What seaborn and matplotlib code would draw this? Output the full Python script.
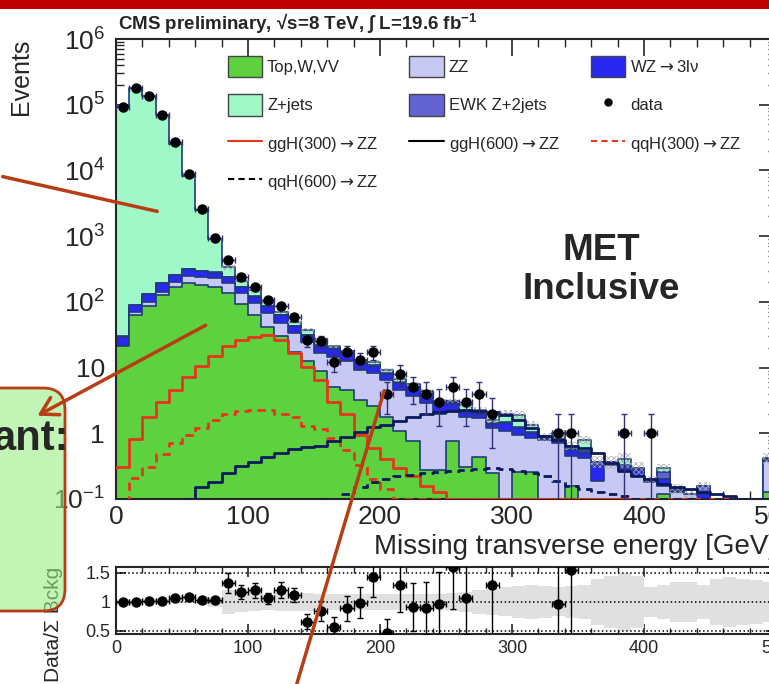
import numpy as np
import pandas as pd
import matplotlib
matplotlib.use("Agg")
import matplotlib.pyplot as plt
import seaborn as sns
from matplotlib.patches import Patch, FancyBboxPatch, FancyArrowPatch, Rectangle
from matplotlib.lines import Line2D
from matplotlib.font_manager import FontProperties
from matplotlib.ticker import MultipleLocator, FixedLocator, FixedFormatter, LogLocator, NullFormatter

# %% data (10 GeV bins, 0-500 GeV)
edges = np.arange(0, 510, 10)
centers = edges[:-1] + 5

data = [9.3e4, 1.8e5, 1.35e5, 7.0e4, 2.7e4, 8.9e3, 2.6e3, 930, 434, 242,
        169, 107, 85, 58, 26, 25, 12, 17, 13, 17,
        4, 8, 5, 4, 3, 5, 3, 4, 2, 0,
        0, 0, 0, 1, 1, 0, 0, 0, 1, 0,
        1, 0, 0, 0, 0, 0, 0, 0, 0, 0]
data_err = [305, 424, 367, 265, 164, 94, 51, 30, 21, 16,
            13, 10, 9, 7.6, 5.1, 5, 3.5, 4.1, 3.6, 4.1,
            2, 2.8, 2.2, 2, 1.7, 2.2, 1.7, 2, 1.4, 0,
            0, 0, 0, 1, 1, 0, 0, 0, 1, 0,
            1, 0, 0, 0, 0, 0, 0, 0, 0, 0]

top_wvv = [21, 63, 87, 127, 167, 196, 180, 167, 135, 93,
           63, 42, 30, 17.5, 12.5, 9, 5.1, 4.5, 3.2, 2.6,
           1.8, 1.1, 0.75, 0.28, 0.28, 0.75, 0.31, 0.44, 0.25, 0,
           0.26, 0.26, 0, 0, 0.16, 0, 0, 0, 0, 0,
           0, 0.12, 0, 0, 0, 0, 0, 0, 0, 0.13]
zz = [0.5, 8, 14, 16, 36, 51, 57, 61, 56, 42,
      34, 25, 18, 16.5, 12.1, 7.6, 9.6, 8.1, 6.0, 5.6,
      4.7, 3.4, 2.95, 2.62, 1.72, 1.55, 1.47, 1.24, 0.95, 1.1,
      0.69, 0.59, 0.8, 0.7, 0.29, 0.42, 0.19, 0.33, 0.28, 0.22,
      0.18, 0.04, 0.13, 0.12, 0.1, 0, 0, 0, 0, 0.25]
wz = [8.1, 18, 31, 48, 54, 69, 61, 51, 46, 32,
      23, 20, 15, 9, 6.4, 4.9, 4.8, 3.7, 2.6, 2.5,
      1.5, 1.4, 1.2, 1.0, 0.9, 0.6, 0.32, 0.32, 0.2, 0.35,
      0.25, 0.15, 0.05, 0.1, 0.1, 0.08, 0.14, 0.02, 0.04, 0.06,
      0.01, 0.04, 0.005, 0, 0.02, 0, 0, 0, 0, 0.02]
ewk = [0.2, 0.5, 0.8, 1.2, 1.6, 2.0, 2.0, 1.9, 1.7, 1.4,
       1.1, 0.9, 0.7, 0.5, 0.4, 0.35, 0.3, 0.25, 0.2, 0.18,
       0.15, 0.12, 0.1, 0.09, 0.08, 0.07, 0.06, 0.05, 0.05, 0.04,
       0.04, 0.03, 0.03, 0.03, 0.03, 0.03, 0.04, 0.02, 0.01, 0.02,
       0.01, 0.06, 0.01, 0, 0.04, 0, 0, 0, 0, 0.01]
zjets = [9.3e4, 1.8e5, 1.34e5, 6.88e4, 2.52e4, 7.9e3, 2.2e3, 620, 101, 42,
         29, 13.1, 7.3, 6.5, 5.6, 5.15, 1.2, 1.45, 1.0, 1.12,
         1.15, 0.58, 0.6, 0.41, 0.12, 0.13, 0.54, 0.25, 0.15, 0.51,
         0.66, 0.32, 0.02, 0.17, 0.07, 0.27, 0, 0, 0.07, 0,
         0, 0.04, 0, 0, 0, 0, 0, 0, 0, 0.01]

ggh300 = [0.31, 0.83, 1.8, 3.0, 4.6, 7.3, 10.7, 15, 21, 26,
          29.6, 31, 26, 16.6, 10.3, 6.5, 3.0, 2.0, 0.95, 0.6,
          0.4, 0.3, 0.22, 0.16, 0.13, 0.1, 0.1, 0.1, 0.1, 0.1,
          0.1, 0.1, 0.1, 0.1, 0.1, 0.1, 0.1, 0.1, 0.1, 0.1,
          0.1, 0.1, 0.1, 0.1, 0.1, 0.1, 0.1, 0.1, 0.1, 0.1]
qqh300 = [0.05, 0.21, 0.31, 0.48, 0.70, 0.94, 1.19, 1.6, 2.0, 2.2,
          2.26, 2.26, 2.0, 1.8, 1.3, 1.15, 0.85, 0.55, 0.33, 0.2,
          0.14, 0.1, 0.1, 0.1, 0.1, 0.1, 0.1, 0.1, 0.1, 0.1,
          0.1, 0.1, 0.1, 0.1, 0.1, 0.1, 0.1, 0.1, 0.1, 0.1,
          0.1, 0.1, 0.1, 0.1, 0.1, 0.1, 0.1, 0.1, 0.1, 0.1]
ggh600 = [0.05, 0.05, 0.05, 0.05, 0.05, 0.1, 0.15, 0.18, 0.25, 0.32,
          0.37, 0.44, 0.5, 0.57, 0.62, 0.65, 0.75, 0.89, 1.05, 1.25,
          1.35, 1.55, 1.8, 2.0, 2.1, 2.2, 2.25, 2.2, 2.1, 1.9,
          1.6, 1.2, 0.9, 0.8, 0.65, 0.6, 0.5, 0.35, 0.27, 0.22,
          0.2, 0.17, 0.15, 0.14, 0.13, 0.12, 0.11, 0.1, 0.1, 0.1]
qqh600 = [0.05, 0.05, 0.05, 0.05, 0.05, 0.05, 0.05, 0.05, 0.05, 0.05,
          0.05, 0.05, 0.05, 0.05, 0.05, 0.1, 0.1, 0.12, 0.15, 0.18,
          0.2, 0.22, 0.23, 0.25, 0.26, 0.27, 0.28, 0.29, 0.3, 0.29,
          0.27, 0.25, 0.22, 0.19, 0.16, 0.14, 0.13, 0.12, 0.11, 0.1,
          0.1, 0.1, 0.1, 0.1, 0.1, 0.1, 0.1, 0.1, 0.1, 0.1]

# ratio panel: data / sum of backgrounds, nan = no point drawn
ratio = [1.0, 1.0, 1.01, 1.02, 1.06, 1.09, 1.03, 1.03, 1.33, 1.17,
         1.2, 1.06, 1.2, 1.12, 0.66, 0.84, 0.57, 0.89, 0.99, 1.43,
         0.47, 1.29, 0.91, 0.9, 0.96, 1.6, 1.06, np.nan, 1.3, np.nan,
         np.nan, np.nan, np.nan, 0.97, 1.55] + [np.nan] * 15
ratio_err = [0.005, 0.005, 0.006, 0.008, 0.01, 0.015, 0.02, 0.035, 0.17, 0.12,
             0.13, 0.09, 0.14, 0.12, 0.13, 0.17, 0.17, 0.21, 0.27, 0.35,
             0.24, 0.46, 0.41, 0.45, 0.55, 0.72, 0.61, np.nan, 0.92, np.nan,
             np.nan, np.nan, np.nan, 0.97, 1.55] + [np.nan] * 15
mc_band = [0.005, 0.005, 0.006, 0.008, 0.012, 0.018, 0.03, 0.08, 0.2, 0.18,
           0.16, 0.14, 0.15, 0.16, 0.15, 0.14, 0.13, 0.13, 0.14, 0.14,
           0.14, 0.14, 0.13, 0.13, 0.14, 0.16, 0.18, 0.2, 0.22, 0.25,
           0.27, 0.3, 0.28, 0.25, 0.27, 0.3, 0.4, 0.45, 0.5, 0.45,
           0.26, 0.3, 0.35, 0.35, 0.3, 0.4, 0.43, 0.4, 0.38, 0.35]

ytick_vals = [0.1, 1, 10, 1e2, 1e3, 1e4, 1e5, 1e6]
ytick_text = ["$10^{-1}$", "1", "10", "$10^{2}$", "$10^{3}$", "$10^{4}$", "$10^{5}$", "$10^{6}$"]

# %% style
sns.set_theme(style="ticks")
plt.rcParams["font.family"] = ["Liberation Sans", "DejaVu Sans"]
plt.rcParams["mathtext.fontset"] = "custom"
plt.rcParams["mathtext.rm"] = "Liberation Sans"
plt.rcParams["mathtext.bf"] = "Liberation Sans:bold"
plt.rcParams["mathtext.it"] = "Liberation Sans:italic"
plt.rcParams["hatch.linewidth"] = 0.5

c_green, c_zz, c_wz, c_ewk, c_zj = "#5ed23e", "#c8c8f5", "#2828f0", "#6262d2", "#a0f8c8"
c_edge = "#1f3b7a"
c_red, c_navy = "#e8341c", "#0b1a5c"
c_arrow = "#b83c14"

fig = plt.figure(figsize=(7.69, 6.84), dpi=100)
W, H = 769, 684
AX_W = 660
ax = fig.add_axes([116 / W, 1 - 499 / H, AX_W / W, 460 / H])
rax = fig.add_axes([116 / W, 1 - 634 / H, AX_W / W, 67 / H])
ax.set_yscale("log")

hist_kws = dict(x="met", weights="events", binwidth=10, binrange=(0, 500),
                element="step", ax=ax)

# stacked backgrounds, drawn as cumulative layers from the top down (THStack style)
layers = [("Top,W,VV", top_wvv, c_green), ("ZZ", zz, c_zz), ("WZ", wz, c_wz),
          ("EWK", ewk, c_ewk), ("Z+jets", zjets, c_zj)]
cum = np.cumsum(np.array([l[1] for l in layers], dtype=float), axis=0)
for k in range(len(layers) - 1, -1, -1):
    df = pd.DataFrame({"met": centers, "events": cum[k]})
    sns.histplot(data=df, fill=True, color=layers[k][2], alpha=1, edgecolor=c_edge,
                 linewidth=1.2, **hist_kws)
total = cum[-1]
band = np.array(mc_band)
ax.fill_between(edges, np.append(total * (1 - band / 2), total[-1] * (1 - band[-1] / 2)),
                np.append(total * (1 + band / 2), total[-1] * (1 + band[-1] / 2)),
                step="post", facecolor="none", edgecolor="#a8a8a8", hatch="xxxxxx",
                linewidth=0, zorder=3)

# signal curves
for vals, col, ls in [(ggh300, c_red, "-"), (qqh300, c_red, (0, (3, 2))),
                      (ggh600, c_navy, "-"), (qqh600, c_navy, (0, (3, 2)))]:
    df = pd.DataFrame({"met": centers, "events": vals})
    sns.histplot(data=df, fill=False, color=col, linestyle=ls, linewidth=2,
                 zorder=4, **hist_kws)

# data points
d = np.array(data, dtype=float)
de = np.array(data_err, dtype=float)
m = d > 0
half = np.diff(edges) / 2
ax.errorbar(centers[m], d[m], yerr=de[m], xerr=half[m], fmt="o", ms=6.5,
            color="black", ecolor="#30307a", elinewidth=1, capsize=2.5, zorder=6)

ax.set_xlim(0, 500)
ax.set_ylim(0.1, 1e6)
ax.yaxis.set_major_locator(FixedLocator(ytick_vals))
ax.yaxis.set_major_formatter(FixedFormatter(ytick_text))
ax.yaxis.set_minor_locator(LogLocator(base=10, subs=np.arange(2, 10)))
ax.yaxis.set_minor_formatter(NullFormatter())
ax.xaxis.set_major_locator(MultipleLocator(100))
ax.xaxis.set_minor_locator(MultipleLocator(20))
ax.tick_params(which="both", direction="in", top=True, right=True)
ax.tick_params(which="major", length=12, width=1.2, labelsize=19)
ax.tick_params(axis="y", which="major", pad=8)
ax.tick_params(axis="x", which="major", pad=4)
ax.tick_params(which="minor", length=6, width=1)
for s in ax.spines.values():
    s.set_linewidth(1.5)
ax.set_xlabel("Missing transverse energy [GeV]", loc="right", fontsize=20, labelpad=4)
ax.set_ylabel("Events", loc="top", fontsize=18)
ax.yaxis.set_label_coords((33 - 116) / AX_W, 1.0)

leg_handles = [Patch(facecolor=c_green, edgecolor="#444444"),
               Patch(facecolor=c_zj, edgecolor="#444444"),
               Line2D([], [], color=c_red, lw=1.5),
               Line2D([], [], color="black", lw=1.5, ls=(0, (3, 2))),
               Patch(facecolor=c_zz, edgecolor="#444444"),
               Patch(facecolor=c_ewk, edgecolor="#444444"),
               Line2D([], [], color="black", lw=1.5),
               Patch(facecolor=c_wz, edgecolor="#444444"),
               Line2D([], [], color="black", marker="o", ms=5, ls="none"),
               Line2D([], [], color=c_red, lw=1.5, ls=(0, (3, 2)))]
leg_labels = ["Top,W,VV", "Z+jets", "ggH(300)$\\rightarrow$ZZ", "qqH(600)$\\rightarrow$ZZ",
              "ZZ", "EWK Z+2jets", "ggH(600)$\\rightarrow$ZZ",
              "WZ$\\rightarrow$3lν", "data", "qqH(300)$\\rightarrow$ZZ"]
leg_font = FontProperties(family=["Liberation Sans", "DejaVu Sans"], size=12,
                          math_fontfamily="dejavusans")
ax.legend(leg_handles, leg_labels, ncol=3, loc="upper left",
          bbox_to_anchor=(0.1695, 0.9635), frameon=False, prop=leg_font,
          handlelength=2.05, handleheight=1.6, handletextpad=0.3,
          labelspacing=1.02, columnspacing=1.85, borderpad=0, borderaxespad=0)

# ratio panel
rb = np.append(band, band[-1])
rax.fill_between(edges, 1 - rb, 1 + rb, step="post", color="#e0e0e0", linewidth=0)
for yv in (0.5, 1.0, 1.5):
    rax.axhline(yv, color="black", ls=":", lw=1.1)
r = np.array(ratio, dtype=float)
re = np.array(ratio_err, dtype=float)
rm = ~np.isnan(r)
rax.errorbar(centers[rm], r[rm], yerr=re[rm], xerr=half[rm], fmt="o", ms=6.5,
             color="black", elinewidth=1, capsize=2.5, zorder=5)
rax.set_xlim(0, 500)
rax.set_ylim(0.448, 1.603)
rax.yaxis.set_major_locator(FixedLocator([0.5, 1.0, 1.5]))
rax.yaxis.set_major_formatter(FixedFormatter(["0.5", "1", "1.5"]))
rax.xaxis.set_major_locator(MultipleLocator(100))
rax.xaxis.set_minor_locator(MultipleLocator(20))
rax.tick_params(which="both", direction="in", top=True, right=True)
rax.tick_params(which="major", length=7, width=1.2, labelsize=13, pad=4)
rax.tick_params(which="minor", length=4, width=1)
for s in rax.spines.values():
    s.set_linewidth(1.5)
rax.set_xlabel("")
rax.set_ylabel("Data/Σ Bckg", loc="top", fontsize=15)
rax.yaxis.set_label_coords((63 - 116) / AX_W, 1.0)

# header and slide overlay
fig.add_artist(Rectangle((0, 1 - 9 / H), 1, 9 / H, transform=fig.transFigure,
                         color="#c00000", lw=0))
fig.text(118 / W, 1 - 30 / H, "CMS preliminary, √s=8 TeV, ∫ L=19.6 fb$^{\\mathbf{-1}}$",
         fontsize=13.5, fontweight="bold", va="baseline")
fig.text(6.01, 4.14, "MET\nInclusive", transform=fig.dpi_scale_trans, ha="center",
         va="center", fontsize=26.5, fontweight="bold", linespacing=1.15)

box = FancyBboxPatch((-0.5, 0.73), 1.15, 2.23, boxstyle="round,pad=0,rounding_size=0.22",
                     transform=fig.dpi_scale_trans, facecolor=(0.6, 0.93, 0.52, 0.6),
                     edgecolor=c_arrow, linewidth=2, zorder=2)
fig.add_artist(box)
fig.text(0.69, 2.34, "ant:", transform=fig.dpi_scale_trans, ha="right", va="baseline",
         fontsize=30, fontweight="bold", zorder=4)
for a, b, style in [((0.0, 5.08), (1.6, 4.72), "-"),
                    ((2.08, 3.60), (0.35, 2.67), "->,head_length=0.6,head_width=0.35"),
                    ((3.85, 2.96), (2.92, -0.16), "-")]:
    fig.add_artist(FancyArrowPatch(a, b, transform=fig.dpi_scale_trans, arrowstyle=style,
                                   mutation_scale=20, color=c_arrow, lw=2.5, zorder=3))

fig.savefig("out.png", dpi=100)
